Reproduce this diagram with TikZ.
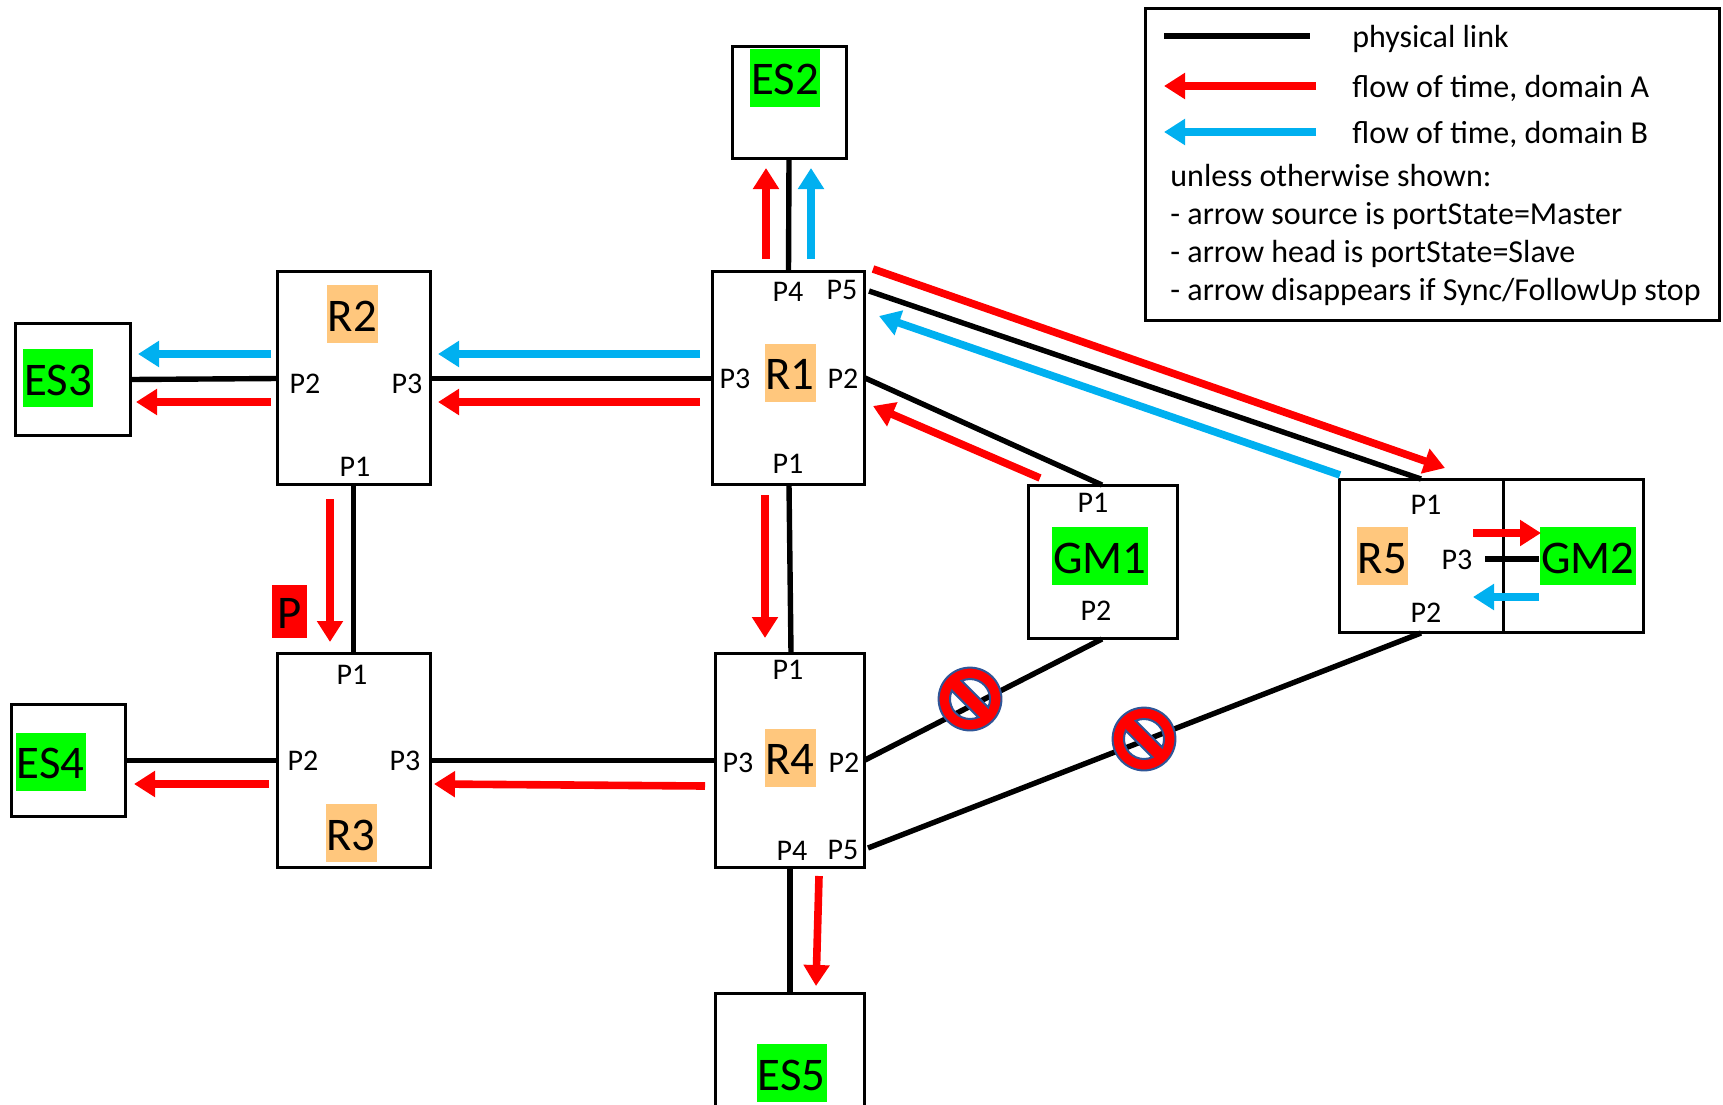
\documentclass[tikz,border=0pt]{standalone}
\usepackage{fontspec}
\setmainfont{Carlito}
\usetikzlibrary{arrows.meta,fit}
\definecolor{tagorange}{HTML}{FFC77D}
\definecolor{taggreen}{HTML}{00FF00}
\definecolor{flowred}{HTML}{FF0000}
\definecolor{flowblue}{HTML}{00B0F0}
\definecolor{signblue}{HTML}{2F5597}
\tikzset{
  x=0.5pt,y=-0.5pt,
  boxnode/.style={draw=black,line width=1.5pt,inner sep=0pt,outer sep=0pt},
  tagbase/.style={inner sep=0pt,outer sep=0pt,minimum height=29pt,text height=17pt,text depth=0pt,font=\fontsize{23.4}{24}\selectfont,text=black},
  rtag/.style={tagbase,fill=tagorange,minimum width=25.5pt},
  estag/.style={tagbase,fill=taggreen,minimum width=35pt},
  gmtag/.style={tagbase,fill=taggreen,minimum width=48pt},
  ptag/.style={tagbase,fill=flowred,minimum width=17.5pt,minimum height=26.5pt},
  portlab/.style={inner sep=0pt,font=\fontsize{15}{15}\selectfont,text=black},
  legtext/.style={inner sep=0pt,anchor=west,font=\fontsize{16}{16}\selectfont,text=black},
  physlink/.style={draw=black,line width=2.7pt},
  redflow/.style={draw=flowred,line width=3.8pt,-{Triangle[length=10.5pt,width=12.5pt]}},
  blueflow/.style={draw=flowblue,line width=3.8pt,-{Triangle[length=10.5pt,width=12.5pt]}},
  nosign/.pic={
    \path[fill=flowred,draw=signblue,line width=1pt,even odd rule]
      (0,0) circle[radius=15.7pt]
      (-24.5:10pt) arc[start angle=-24.5,end angle=114.5,radius=10pt] -- cycle
      (155.5:10pt) arc[start angle=155.5,end angle=294.5,radius=10pt] -- cycle;
  }
}
\newcommand{\boxat}[5]{\node[boxnode,fit={(#2,#3)(#4,#5)}] (#1) {};}
\newcommand{\flowpt}[5]{\coordinate (#1s) at (#2,#3); \coordinate (#1e) at (#4,#5);}
\begin{document}
\begin{tikzpicture}
\clip (0,0) rectangle (1723,1104);
\fill[white] (0,0) rectangle (1723,1104);

% boxes
\boxat{ES2}{732}{46}{846}{158.5}
\boxat{R2}{277}{271}{430.5}{484.5}
\boxat{R1}{712}{271}{864.5}{484.5}
\boxat{ES3}{15}{323}{130.5}{435.5}
\boxat{GM1}{1028.5}{485}{1177.5}{638.5}
\boxat{R5}{1339}{479}{1503}{632.5}
\boxat{GM2}{1503}{479}{1643.5}{632.5}
\boxat{R3}{277}{653}{430.5}{867.5}
\boxat{R4}{715}{653}{864.5}{867.5}
\boxat{ES4}{11}{704}{125.5}{816.5}
\boxat{ES5}{715}{993}{864.5}{1125}

% tags
\node[estag] (tES2) at (785,77.5) {ES2};
\node[rtag] (tR2) at (352.5,314) {R2};
\node[rtag] (tR1) at (790,372.5) {R1};
\node[estag] (tES3) at (58,378) {ES3};
\node[rtag] (tR3) at (351,833) {R3};
\node[rtag] (tR4) at (790,757.5) {R4};
\node[estag] (tES4) at (50.5,761.5) {ES4};
\node[estag] (tES5) at (791.5,1073) {ES5};
\node[gmtag] (tGM1) at (1100,556) {GM1};
\node[gmtag] (tGM2) at (1588,556) {GM2};
\node[rtag] (tR5) at (1382.5,556) {R5};
\node[ptag] (tP) at (289.5,611) {P};

% ports
\node[portlab] (R1a) at (788,292) {P4};
\node[portlab] (R1b) at (842,290) {P5};
\node[portlab] (R1c) at (735,379) {P3};
\node[portlab] (R1d) at (843,379) {P2};
\node[portlab] (R1e) at (788,464) {P1};
\node[portlab] (R2a) at (305,384) {P2};
\node[portlab] (R2b) at (407,384) {P3};
\node[portlab] (R2c) at (355,467) {P1};
\node[portlab] (R3a) at (352,675) {P1};
\node[portlab] (R3b) at (303,761) {P2};
\node[portlab] (R3c) at (405,761) {P3};
\node[portlab] (R4a) at (788,670) {P1};
\node[portlab] (R4b) at (738,763) {P3};
\node[portlab] (R4c) at (844,763) {P2};
\node[portlab] (R4d) at (792,851) {P4};
\node[portlab] (R4e) at (843,850) {P5};
\node[portlab] (G1a) at (1093,503) {P1};
\node[portlab] (G1b) at (1096,611) {P2};
\node[portlab] (R5a) at (1426,505) {P1};
\node[portlab] (R5b) at (1457,560) {P3};
\node[portlab] (R5c) at (1426,613) {P2};

% link ends
\coordinate (R1p5) at (869,291);
\coordinate (R5p1) at (1421,479);
\coordinate (R1p2) at (865,378);
\coordinate (G1p1) at (1102,485);
\coordinate (G1p2) at (1102,639);
\coordinate (R4p2) at (865,760);
\coordinate (R5p2) at (1421,633);
\coordinate (R4p5) at (868,848);
\coordinate (R5p3) at (1485,559);
\coordinate (GM2w) at (1539,559);
\coordinate (R2w) at (277,378.5);
\coordinate (R2e) at (431,378.5);
\coordinate (R1w) at (712,378.5);
\coordinate (ES3e) at (131,379.5);
\coordinate (R3w) at (277,760.5);
\coordinate (R3e) at (431,760.5);
\coordinate (R4w) at (715,760.5);
\coordinate (ES4e) at (126,760.5);
\coordinate (R1s) at (789,485);
\coordinate (R4n) at (791,653);
\coordinate (R4s) at (790,868);
\coordinate (ES5n) at (790,993);
\coordinate (ES2s) at (789,159);
\coordinate (R1n) at (788.5,271);

% physical links
\draw[physlink] (ES2s) -- (R1n);
\draw[physlink] (ES3e) -- (R2w);
\draw[physlink] (R2e) -- (R1w);
\draw[physlink] (R2.south) -- (R3.north);
\draw[physlink] (R1s) -- (R4n);
\draw[physlink] (ES4e) -- (R3w);
\draw[physlink] (R3e) -- (R4w);
\draw[physlink] (R4s) -- (ES5n);
\draw[physlink] (R1p5) -- (R5p1);
\draw[physlink] (R1p2) -- (G1p1);
\draw[physlink] (G1p2) -- (R4p2);
\draw[physlink] (R5p2) -- (R4p5);
\draw[physlink] (R5p3) -- (GM2w);

% flow end points
\flowpt{fa}{766}{259}{766}{168}
\flowpt{fb}{811}{259}{811}{168}
\flowpt{fc}{271}{354}{138}{354}
\flowpt{fd}{271}{402}{136}{402}
\flowpt{fe}{700}{354}{438}{354}
\flowpt{ff}{700}{402}{438}{402}
\flowpt{fg}{330}{499}{330}{642}
\flowpt{fh}{765}{495}{765}{638}
\flowpt{fi}{705}{786}{434}{784}
\flowpt{fj}{269}{784}{134}{784}
\flowpt{fk}{819}{876}{816}{986}
\flowpt{fl}{1040}{478}{873}{406}
\flowpt{fm}{873}{269}{1445}{468}
\flowpt{fn}{1340}{475}{879}{316}
\flowpt{fo}{1473}{533}{1541}{533}
\flowpt{fp}{1539}{597}{1473}{597}

\draw[redflow] (fas) -- (fae);
\draw[blueflow] (fbs) -- (fbe);
\draw[blueflow] (fcs) -- (fce);
\draw[redflow] (fds) -- (fde);
\draw[blueflow] (fes) -- (fee);
\draw[redflow] (ffs) -- (ffe);
\draw[redflow] (fgs) -- (fge);
\draw[redflow] (fhs) -- (fhe);
\draw[redflow] (fis) -- (fie);
\draw[redflow] (fjs) -- (fje);
\draw[redflow] (fks) -- (fke);
\draw[redflow] (fls) -- (fle);
\draw[redflow] (fms) -- (fme);
\draw[blueflow] (fns) -- (fne);
\draw[redflow] (fos) -- (foe);
\draw[blueflow] (fps) -- (fpe);

% prohibition signs
\pic at (970,699) {nosign};
\pic at (1144,739) {nosign};

% legend
\boxat{Legend}{1145}{8}{1719.5}{320.5}
\coordinate (lkA) at (1164,36); \coordinate (lkB) at (1310,36);
\coordinate (laA) at (1316,86); \coordinate (laB) at (1164,86);
\coordinate (lbA) at (1316,132); \coordinate (lbB) at (1164,132);
\draw[physlink] (lkA) -- (lkB);
\draw[redflow] (laA) -- (laB);
\draw[blueflow] (lbA) -- (lbB);
\node[legtext] (l1) at (1352,39) {physical link};
\node[legtext] (l2) at (1352,88) {flow of time, domain A};
\node[legtext] (l3) at (1352,134) {flow of time, domain B};
\node[legtext] (l4) at (1170,176) {unless otherwise shown:};
\node[legtext] (l5) at (1170,216) {- arrow source is portState=Master};
\node[legtext] (l6) at (1170,254) {- arrow head is portState=Slave};
\node[legtext] (l7) at (1170,292) {- arrow disappears if Sync/FollowUp stop};
\end{tikzpicture}
\end{document}
